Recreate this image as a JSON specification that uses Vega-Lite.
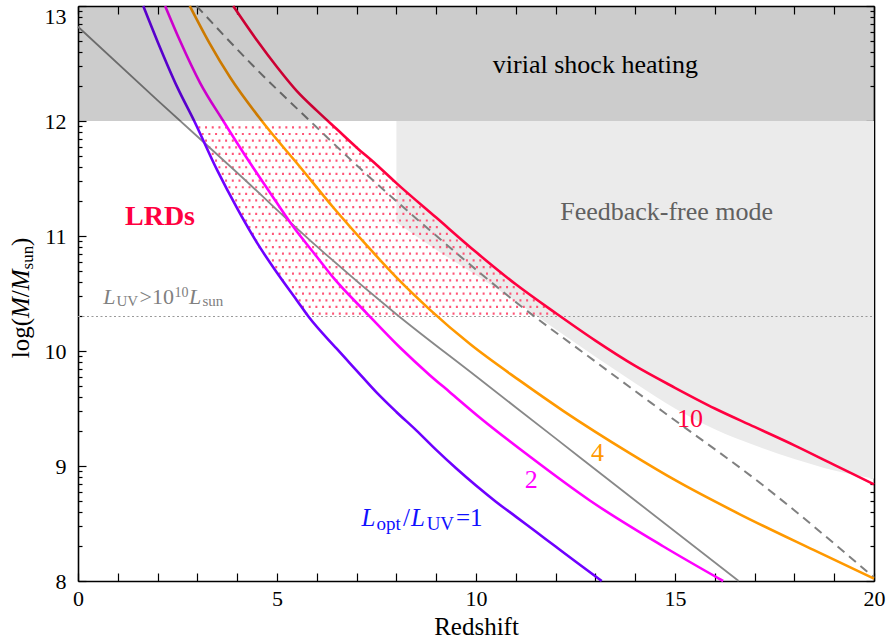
{
  "$schema": "https://vega.github.io/schema/vega-lite/v6.json",
  "width": 796,
  "height": 575,
  "autosize": {"type": "none"},
  "padding": {"left": 78, "top": 6, "right": 12, "bottom": 62},
  "background": "white",
  "config": {
    "view": {"stroke": null},
    "font": "Liberation Serif",
    "axis": {
      "grid": false,
      "labelFont": "Liberation Serif",
      "labelFontSize": 22,
      "labelColor": "black",
      "tickColor": "black",
      "tickWidth": 1.2,
      "domainColor": "black",
      "domainWidth": 1.6,
      "zindex": 1,
      "labelOverlap": false,
      "labelFlush": false
    }
  },
  "datasets": {
    "curves": [
      {"s": "1", "z": 1.64, "m": 13.0}, {"s": "1", "z": 2.0, "m": 12.69}, {"s": "1", "z": 2.5, "m": 12.29}, {"s": "1", "z": 2.92, "m": 12.0},
      {"s": "1", "z": 3.5, "m": 11.57}, {"s": "1", "z": 4.0, "m": 11.24}, {"s": "1", "z": 4.5, "m": 10.94}, {"s": "1", "z": 5.0, "m": 10.68},
      {"s": "1", "z": 5.5, "m": 10.44}, {"s": "1", "z": 5.79, "m": 10.3}, {"s": "1", "z": 6.5, "m": 10.02}, {"s": "1", "z": 7.0, "m": 9.83},
      {"s": "1", "z": 7.5, "m": 9.64}, {"s": "1", "z": 8.0, "m": 9.47}, {"s": "1", "z": 8.5, "m": 9.31}, {"s": "1", "z": 9.0, "m": 9.14},
      {"s": "1", "z": 9.5, "m": 8.98}, {"s": "1", "z": 10.0, "m": 8.83}, {"s": "1", "z": 10.5, "m": 8.69}, {"s": "1", "z": 11.0, "m": 8.56},
      {"s": "1", "z": 11.5, "m": 8.43}, {"s": "1", "z": 12.0, "m": 8.3}, {"s": "1", "z": 12.5, "m": 8.17}, {"s": "1", "z": 13.16, "m": 8.0},
      {"s": "2", "z": 2.19, "m": 13.0}, {"s": "2", "z": 2.56, "m": 12.7}, {"s": "2", "z": 3.07, "m": 12.33}, {"s": "2", "z": 3.65, "m": 12.0},
      {"s": "2", "z": 4.2, "m": 11.7}, {"s": "2", "z": 4.8, "m": 11.39}, {"s": "2", "z": 5.41, "m": 11.08}, {"s": "2", "z": 6.0, "m": 10.82},
      {"s": "2", "z": 6.41, "m": 10.64}, {"s": "2", "z": 7.25, "m": 10.33}, {"s": "2", "z": 8.09, "m": 10.03}, {"s": "2", "z": 8.84, "m": 9.79},
      {"s": "2", "z": 9.35, "m": 9.64}, {"s": "2", "z": 10.1, "m": 9.42}, {"s": "2", "z": 11.36, "m": 9.08}, {"s": "2", "z": 12.86, "m": 8.7},
      {"s": "2", "z": 14.71, "m": 8.3}, {"s": "2", "z": 16.21, "m": 8.0},
      {"s": "4", "z": 2.81, "m": 13.0}, {"s": "4", "z": 3.3, "m": 12.68}, {"s": "4", "z": 3.82, "m": 12.38}, {"s": "4", "z": 4.62, "m": 12.0},
      {"s": "4", "z": 5.58, "m": 11.6}, {"s": "4", "z": 6.41, "m": 11.25}, {"s": "4", "z": 7.25, "m": 10.92}, {"s": "4", "z": 8.0, "m": 10.64},
      {"s": "4", "z": 8.84, "m": 10.36}, {"s": "4", "z": 9.85, "m": 10.06}, {"s": "4", "z": 11.11, "m": 9.74}, {"s": "4", "z": 12.19, "m": 9.48},
      {"s": "4", "z": 13.87, "m": 9.11}, {"s": "4", "z": 15.04, "m": 8.87}, {"s": "4", "z": 16.63, "m": 8.58}, {"s": "4", "z": 18.48, "m": 8.27},
      {"s": "4", "z": 20.0, "m": 8.02},
      {"s": "10", "z": 3.9, "m": 13.0}, {"s": "10", "z": 4.5, "m": 12.7}, {"s": "10", "z": 5.0, "m": 12.47}, {"s": "10", "z": 5.5, "m": 12.26},
      {"s": "10", "z": 6.0, "m": 12.09}, {"s": "10", "z": 6.5, "m": 11.93}, {"s": "10", "z": 7.0, "m": 11.77}, {"s": "10", "z": 7.5, "m": 11.62},
      {"s": "10", "z": 8.0, "m": 11.46}, {"s": "10", "z": 9.0, "m": 11.16}, {"s": "10", "z": 10.0, "m": 10.86}, {"s": "10", "z": 11.0, "m": 10.58},
      {"s": "10", "z": 12.0, "m": 10.33}, {"s": "10", "z": 13.0, "m": 10.09}, {"s": "10", "z": 14.0, "m": 9.87}, {"s": "10", "z": 15.0, "m": 9.68},
      {"s": "10", "z": 16.0, "m": 9.5}, {"s": "10", "z": 17.0, "m": 9.34}, {"s": "10", "z": 18.0, "m": 9.18}, {"s": "10", "z": 19.0, "m": 9.01},
      {"s": "10", "z": 20.0, "m": 8.84}
    ],
    "grayline": [
      {"z": 0, "m": 12.82}, {"z": 2, "m": 12.18}, {"z": 4, "m": 11.55}, {"z": 6, "m": 10.91}, {"z": 8, "m": 10.32},
      {"z": 10, "m": 9.78}, {"z": 12, "m": 9.24}, {"z": 14, "m": 8.7}, {"z": 16.6, "m": 8.0}
    ],
    "dashed": [
      {"z": 2.98, "m": 13.0}, {"z": 4.4, "m": 12.48}, {"z": 5.83, "m": 12.0}, {"z": 7.3, "m": 11.52}, {"z": 8.84, "m": 11.05},
      {"z": 11.02, "m": 10.42}, {"z": 13.03, "m": 9.9}, {"z": 14.71, "m": 9.47}, {"z": 17.22, "m": 8.83}, {"z": 20.0, "m": 8.03}
    ],
    "ffree": [
      {"z": 8, "lo": 11.12, "hi": 12}, {"z": 9, "lo": 10.88, "hi": 12}, {"z": 10, "lo": 10.66, "hi": 12}, {"z": 11, "lo": 10.43, "hi": 12},
      {"z": 12, "lo": 10.19, "hi": 12}, {"z": 13, "lo": 9.95, "hi": 12}, {"z": 14, "lo": 9.72, "hi": 12}, {"z": 15, "lo": 9.5, "hi": 12},
      {"z": 16, "lo": 9.32, "hi": 12}, {"z": 17, "lo": 9.18, "hi": 12}, {"z": 18, "lo": 9.06, "hi": 12}, {"z": 19, "lo": 8.96, "hi": 12},
      {"z": 20, "lo": 8.89, "hi": 12}
    ],
    "dots": [
      {"y": 11.945, "x1": 3.024, "x2": 6.466}, {"y": 11.887, "x1": 3.108, "x2": 6.652}, {"y": 11.829, "x1": 3.192, "x2": 6.837},
      {"y": 11.771, "x1": 3.276, "x2": 7.023}, {"y": 11.714, "x1": 3.36, "x2": 7.203}, {"y": 11.656, "x1": 3.444, "x2": 7.384},
      {"y": 11.598, "x1": 3.528, "x2": 7.565}, {"y": 11.54, "x1": 3.612, "x2": 7.746}, {"y": 11.482, "x1": 3.696, "x2": 7.928},
      {"y": 11.424, "x1": 3.78, "x2": 8.108}, {"y": 11.366, "x1": 3.864, "x2": 8.278}, {"y": 11.309, "x1": 3.948, "x2": 8.445},
      {"y": 11.251, "x1": 4.032, "x2": 8.615}, {"y": 11.193, "x1": 4.116, "x2": 8.786}, {"y": 11.135, "x1": 4.2, "x2": 8.956},
      {"y": 11.077, "x1": 4.284, "x2": 9.154}, {"y": 11.019, "x1": 4.368, "x2": 9.361}, {"y": 10.961, "x1": 4.452, "x2": 9.568},
      {"y": 10.904, "x1": 4.536, "x2": 9.771}, {"y": 10.846, "x1": 4.788, "x2": 9.979}, {"y": 10.788, "x1": 4.872, "x2": 10.193},
      {"y": 10.73, "x1": 4.956, "x2": 10.407}, {"y": 10.672, "x1": 5.04, "x2": 10.622}, {"y": 10.614, "x1": 5.124, "x2": 10.837},
      {"y": 10.556, "x1": 5.376, "x2": 11.058}, {"y": 10.499, "x1": 5.46, "x2": 11.296}, {"y": 10.441, "x1": 5.544, "x2": 11.538},
      {"y": 10.383, "x1": 5.628, "x2": 11.779}, {"y": 10.325, "x1": 5.712, "x2": 12.022}
    ]
  },
  "resolve": {"axis": {"x": "independent", "y": "independent"}},
  "layer": [
    {
      "data": {"name": "ffree"},
      "mark": {"type": "area", "color": "#ebebeb", "interpolate": "monotone"},
      "encoding": {
        "x": {"field": "z", "type": "quantitative", "scale": {"domain": [0, 20], "nice": false, "zero": false}, "axis": null},
        "y": {"field": "lo", "type": "quantitative", "scale": {"domain": [8, 13], "nice": false, "zero": false},
              "axis": {"orient": "right", "values": [8.30103, 8.47712, 8.60206, 8.69897, 8.77815, 8.8451, 8.90309, 8.95424, 9.30103, 9.47712, 9.60206, 9.69897, 9.77815, 9.8451, 9.90309, 9.95424, 10.30103, 10.47712, 10.60206, 10.69897, 10.77815, 10.8451, 10.90309, 10.95424, 11.30103, 11.47712, 11.60206, 11.69897, 11.77815, 11.8451, 11.90309, 11.95424, 12.30103, 12.47712, 12.60206, 12.69897, 12.77815, 12.8451, 12.90309, 12.95424], "tickSize": -4, "labels": false, "title": null, "domain": false}},
        "y2": {"field": "hi"}
      }
    },
    {
      "data": {"values": [{"y": 10.3, "x1": 0, "x2": 20}]},
      "mark": {"type": "rule", "color": "#999999", "strokeWidth": 1, "strokeDash": [2, 2.5]},
      "encoding": {
        "x": {"field": "x1", "type": "quantitative", "scale": {"domain": [0, 20], "nice": false, "zero": false}, "axis": null},
        "x2": {"field": "x2"},
        "y": {"field": "y", "type": "quantitative", "scale": {"domain": [8, 13], "nice": false, "zero": false}, "axis": null}
      }
    },
    {
      "data": {"name": "dots"},
      "mark": {"type": "rule", "color": "#ff5577", "strokeWidth": 2.2, "strokeDash": [2, 4.69]},
      "encoding": {
        "x": {"field": "x1", "type": "quantitative", "scale": {"domain": [0, 20], "nice": false, "zero": false}, "axis": null},
        "x2": {"field": "x2"},
        "y": {"field": "y", "type": "quantitative", "scale": {"domain": [8, 13], "nice": false, "zero": false}, "axis": null}
      }
    },
    {
      "data": {"name": "grayline"},
      "mark": {"type": "line", "color": "#888888", "strokeWidth": 1.8, "interpolate": "monotone"},
      "encoding": {
        "x": {"field": "z", "type": "quantitative", "scale": {"domain": [0, 20], "nice": false, "zero": false},
              "axis": {"orient": "top", "values": [0,1,2,3,4,5,6,7,8,9,10,11,12,13,14,15,16,17,18,19,20], "labels": false, "tickSize": -8, "title": null, "domain": true}},
        "y": {"field": "m", "type": "quantitative", "scale": {"domain": [8, 13], "nice": false, "zero": false},
              "axis": {"orient": "right", "values": [8, 9, 10, 11, 12, 13], "labels": false, "tickSize": -8, "title": null, "domain": true}}
      }
    },
    {
      "data": {"name": "dashed"},
      "mark": {"type": "line", "color": "#808080", "strokeWidth": 2, "strokeDash": [9, 6], "interpolate": "monotone"},
      "encoding": {
        "x": {"field": "z", "type": "quantitative", "scale": {"domain": [0, 20], "nice": false, "zero": false}, "axis": null},
        "y": {"field": "m", "type": "quantitative", "scale": {"domain": [8, 13], "nice": false, "zero": false},
              "axis": {"orient": "left", "values": [8.30103, 8.47712, 8.60206, 8.69897, 8.77815, 8.8451, 8.90309, 8.95424, 9.30103, 9.47712, 9.60206, 9.69897, 9.77815, 9.8451, 9.90309, 9.95424, 10.30103, 10.47712, 10.60206, 10.69897, 10.77815, 10.8451, 10.90309, 10.95424, 11.30103, 11.47712, 11.60206, 11.69897, 11.77815, 11.8451, 11.90309, 11.95424, 12.30103, 12.47712, 12.60206, 12.69897, 12.77815, 12.8451, 12.90309, 12.95424], "tickSize": -4, "labels": false, "title": null, "domain": false}}
      }
    },
    {
      "data": {"name": "curves"},
      "mark": {"type": "line", "strokeWidth": 2.6, "interpolate": "monotone"},
      "encoding": {
        "x": {"field": "z", "type": "quantitative", "scale": {"domain": [0, 20], "nice": false, "zero": false},
              "axis": {"orient": "bottom", "values": [0,1,2,3,4,5,6,7,8,9,10,11,12,13,14,15,16,17,18,19,20], "format": "d", "labelExpr": "datum.value % 5 === 0 ? datum.label : ''", "tickSize": -8, "labelPadding": 15, "title": "Redshift", "titleFont": "Liberation Serif", "titleFontSize": 25, "titleFontWeight": "normal", "titleColor": "black", "titlePadding": 5, "domain": true}},
        "y": {"field": "m", "type": "quantitative", "scale": {"domain": [8, 13], "nice": false, "zero": false},
              "axis": {"orient": "left", "values": [8, 9, 10, 11, 12, 13], "format": "d", "tickSize": -8, "labelPadding": 20, "title": null, "domain": true,
                       "labelBaseline": {"condition": {"test": "datum.value >= 13", "value": "top"}, "value": "middle"}}},
        "color": {"field": "s", "type": "nominal", "scale": {"domain": ["1", "2", "4", "10"], "range": ["#6f00ff", "#ff00ff", "#ff9900", "#ff0040"]}, "legend": null}
      }
    },
    {
      "data": {"values": [{"x1": 0, "x2": 20, "y1": 12, "y2": 13}]},
      "mark": {"type": "rect", "color": "black", "opacity": 0.2},
      "encoding": {
        "x": {"field": "x1", "type": "quantitative", "scale": {"domain": [0, 20], "nice": false, "zero": false}, "axis": null},
        "x2": {"field": "x2"},
        "y": {"field": "y1", "type": "quantitative", "scale": {"domain": [8, 13], "nice": false, "zero": false}, "axis": null},
        "y2": {"field": "y2"}
      }
    },
    {
      "data": {"values": [{"x": 13.0, "y": 12.415, "t": "virial shock heating"}]},
      "mark": {"type": "text", "font": "Liberation Serif", "fontSize": 26, "color": "black", "align": "center", "baseline": "alphabetic"},
      "encoding": {
        "x": {"field": "x", "type": "quantitative", "scale": {"domain": [0, 20], "nice": false, "zero": false}, "axis": null},
        "y": {"field": "y", "type": "quantitative", "scale": {"domain": [8, 13], "nice": false, "zero": false}, "axis": null},
        "text": {"field": "t"}
      }
    },
    {
      "data": {"values": [{"x": 14.79, "y": 11.136, "t": "Feedback-free mode"}]},
      "mark": {"type": "text", "font": "Liberation Serif", "fontSize": 26, "color": "#606060", "align": "center", "baseline": "alphabetic"},
      "encoding": {
        "x": {"field": "x", "type": "quantitative", "scale": {"domain": [0, 20], "nice": false, "zero": false}, "axis": null},
        "y": {"field": "y", "type": "quantitative", "scale": {"domain": [8, 13], "nice": false, "zero": false}, "axis": null},
        "text": {"field": "t"}
      }
    },
    {
      "data": {"values": [{"x": 2.06, "y": 11.093, "t": "LRDs"}]},
      "mark": {"type": "text", "font": "Liberation Serif", "fontSize": 28, "fontWeight": "bold", "color": "#ff0040", "align": "center", "baseline": "alphabetic"},
      "encoding": {
        "x": {"field": "x", "type": "quantitative", "scale": {"domain": [0, 20], "nice": false, "zero": false}, "axis": null},
        "y": {"field": "y", "type": "quantitative", "scale": {"domain": [8, 13], "nice": false, "zero": false}, "axis": null},
        "text": {"field": "t"}
      }
    },
    {
      "data": {"values": [{"x": 0.636, "y": 10.406, "t": "L"}, {"x": 2.789, "y": 10.406, "t": "L"}]},
      "mark": {"type": "text", "font": "Liberation Serif", "fontSize": 22, "fontStyle": "italic", "color": "#808080", "align": "left", "baseline": "alphabetic"},
      "encoding": {
        "x": {"field": "x", "type": "quantitative", "scale": {"domain": [0, 20], "nice": false, "zero": false}, "axis": null},
        "y": {"field": "y", "type": "quantitative", "scale": {"domain": [8, 13], "nice": false, "zero": false}, "axis": null},
        "text": {"field": "t"}
      }
    },
    {
      "data": {"values": [{"x": 0.967, "y": 10.389, "t": "UV"}, {"x": 3.128, "y": 10.389, "t": "sun"}]},
      "mark": {"type": "text", "font": "Liberation Serif", "fontSize": 15, "color": "#808080", "align": "left", "baseline": "alphabetic"},
      "encoding": {
        "x": {"field": "x", "type": "quantitative", "scale": {"domain": [0, 20], "nice": false, "zero": false}, "axis": null},
        "y": {"field": "y", "type": "quantitative", "scale": {"domain": [8, 13], "nice": false, "zero": false}, "axis": null},
        "text": {"field": "t"}
      }
    },
    {
      "data": {"values": [{"x": 1.545, "y": 10.406, "t": ">10"}]},
      "mark": {"type": "text", "font": "Liberation Serif", "fontSize": 22, "color": "#808080", "align": "left", "baseline": "alphabetic"},
      "encoding": {
        "x": {"field": "x", "type": "quantitative", "scale": {"domain": [0, 20], "nice": false, "zero": false}, "axis": null},
        "y": {"field": "y", "type": "quantitative", "scale": {"domain": [8, 13], "nice": false, "zero": false}, "axis": null},
        "text": {"field": "t"}
      }
    },
    {
      "data": {"values": [{"x": 2.425, "y": 10.47, "t": "10"}]},
      "mark": {"type": "text", "font": "Liberation Serif", "fontSize": 14, "color": "#808080", "align": "left", "baseline": "alphabetic"},
      "encoding": {
        "x": {"field": "x", "type": "quantitative", "scale": {"domain": [0, 20], "nice": false, "zero": false}, "axis": null},
        "y": {"field": "y", "type": "quantitative", "scale": {"domain": [8, 13], "nice": false, "zero": false}, "axis": null},
        "text": {"field": "t"}
      }
    },
    {
      "data": {"values": [{"x": 7.12, "y": 8.476, "t": "L"}, {"x": 8.367, "y": 8.476, "t": "L"}]},
      "mark": {"type": "text", "font": "Liberation Serif", "fontSize": 25, "fontStyle": "italic", "color": "#1010ff", "align": "left", "baseline": "alphabetic"},
      "encoding": {
        "x": {"field": "x", "type": "quantitative", "scale": {"domain": [0, 20], "nice": false, "zero": false}, "axis": null},
        "y": {"field": "y", "type": "quantitative", "scale": {"domain": [8, 13], "nice": false, "zero": false}, "axis": null},
        "text": {"field": "t"}
      }
    },
    {
      "data": {"values": [{"x": 7.5, "y": 8.447, "t": "opt"}, {"x": 8.76, "y": 8.447, "t": "UV"}]},
      "mark": {"type": "text", "font": "Liberation Serif", "fontSize": 19, "color": "#1010ff", "align": "left", "baseline": "alphabetic"},
      "encoding": {
        "x": {"field": "x", "type": "quantitative", "scale": {"domain": [0, 20], "nice": false, "zero": false}, "axis": null},
        "y": {"field": "y", "type": "quantitative", "scale": {"domain": [8, 13], "nice": false, "zero": false}, "axis": null},
        "text": {"field": "t"}
      }
    },
    {
      "data": {"values": [{"x": 8.166, "y": 8.476, "t": "/"}, {"x": 9.497, "y": 8.476, "t": "=1"}]},
      "mark": {"type": "text", "font": "Liberation Serif", "fontSize": 25, "color": "#1010ff", "align": "left", "baseline": "alphabetic"},
      "encoding": {
        "x": {"field": "x", "type": "quantitative", "scale": {"domain": [0, 20], "nice": false, "zero": false}, "axis": null},
        "y": {"field": "y", "type": "quantitative", "scale": {"domain": [8, 13], "nice": false, "zero": false}, "axis": null},
        "text": {"field": "t"}
      }
    },
    {
      "data": {"values": [{"x": 11.39, "y": 8.876, "t": "2", "s": "2"}, {"x": 13.05, "y": 9.11, "t": "4", "s": "4"}, {"x": 15.38, "y": 9.406, "t": "10", "s": "10"}]},
      "mark": {"type": "text", "font": "Liberation Serif", "fontSize": 26, "align": "center", "baseline": "middle"},
      "encoding": {
        "x": {"field": "x", "type": "quantitative", "scale": {"domain": [0, 20], "nice": false, "zero": false}, "axis": null},
        "y": {"field": "y", "type": "quantitative", "scale": {"domain": [8, 13], "nice": false, "zero": false}, "axis": null},
        "text": {"field": "t"},
        "color": {"field": "s", "type": "nominal", "scale": {"domain": ["1", "2", "4", "10"], "range": ["#6f00ff", "#ff00ff", "#ff9900", "#ff0040"]}, "legend": null}
      }
    },
    {
      "data": {"values": [{"x": -1.231, "y": 9.937, "t": "log("}, {"x": -1.231, "y": 10.468, "t": "/"}, {"x": -1.231, "y": 10.914, "t": ")"}]},
      "mark": {"type": "text", "font": "Liberation Serif", "fontSize": 25, "color": "black", "align": "left", "baseline": "alphabetic", "angle": 270},
      "encoding": {
        "x": {"field": "x", "type": "quantitative", "scale": {"domain": [0, 20], "nice": false, "zero": false}, "axis": null},
        "y": {"field": "y", "type": "quantitative", "scale": {"domain": [8, 13], "nice": false, "zero": false}, "axis": null},
        "text": {"field": "t"}
      }
    },
    {
      "data": {"values": [{"x": -1.231, "y": 10.287, "t": "M"}, {"x": -1.231, "y": 10.528, "t": "M"}]},
      "mark": {"type": "text", "font": "Liberation Serif", "fontSize": 25, "fontStyle": "italic", "color": "black", "align": "left", "baseline": "alphabetic", "angle": 270},
      "encoding": {
        "x": {"field": "x", "type": "quantitative", "scale": {"domain": [0, 20], "nice": false, "zero": false}, "axis": null},
        "y": {"field": "y", "type": "quantitative", "scale": {"domain": [8, 13], "nice": false, "zero": false}, "axis": null},
        "text": {"field": "t"}
      }
    },
    {
      "data": {"values": [{"x": -1.131, "y": 10.709, "t": "sun"}]},
      "mark": {"type": "text", "font": "Liberation Serif", "fontSize": 17, "color": "black", "align": "left", "baseline": "alphabetic", "angle": 270},
      "encoding": {
        "x": {"field": "x", "type": "quantitative", "scale": {"domain": [0, 20], "nice": false, "zero": false}, "axis": null},
        "y": {"field": "y", "type": "quantitative", "scale": {"domain": [8, 13], "nice": false, "zero": false}, "axis": null},
        "text": {"field": "t"}
      }
    }
  ]
}
